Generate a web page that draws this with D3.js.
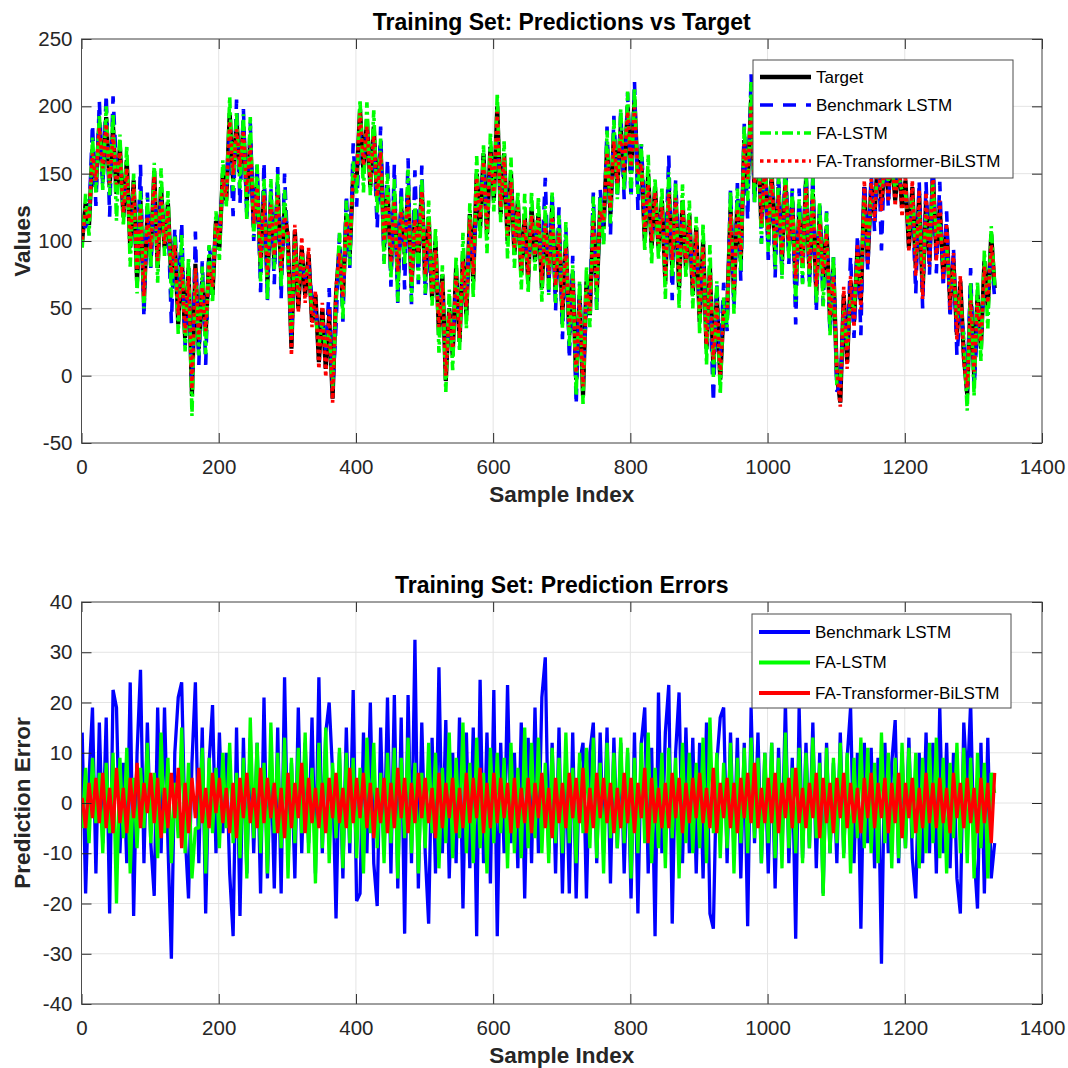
<!DOCTYPE html>
<html>
<head>
<meta charset="utf-8">
<script src="https://cdn.jsdelivr.net/npm/d3@7"></script>
<style>
  body { margin: 0; background: #fff; }
  svg { display: block; }
</style>
</head>
<body>
<svg id="chart" width="1068" height="1068"></svg>
<script>
// Training samples are stored every 5th index, starting at sample 1
const sampleStart = 1;
const sampleStep = 5;

// Target values
const target = [
  100,128,112,168,140,188,148,192,140,185,
  135,170,118,160,95,145,70,130,55,120,
  88,152,80,140,95,128,70,100,38,90,
  28,80,-15,83,20,70,30,88,60,115,
  95,150,130,195,145,190,150,185,130,175,
  110,145,80,138,70,130,85,140,75,125,
  100,20,108,50,95,60,90,40,60,10,
  50,5,45,-17,60,95,55,120,90,150,
  145,198,150,190,140,185,130,170,95,140,
  80,135,70,125,90,140,65,120,85,140,
  70,118,58,100,30,75,-4,50,15,80,
  25,90,45,120,70,150,110,165,105,170,
  130,200,120,165,100,150,90,130,75,120,
  70,125,85,120,65,118,72,125,62,110,
  45,100,30,75,-3,60,-15,70,45,120,
  60,125,110,170,120,180,140,185,145,200,
  150,205,145,160,100,150,95,140,95,130,
  70,140,80,135,65,130,80,120,60,110,
  40,100,20,80,5,60,-3,50,45,125,
  60,130,85,175,140,205,135,180,110,160,
  100,150,90,140,85,145,95,130,65,120,
  80,145,75,135,60,120,70,110,40,80,
  0,-20,60,10,70,40,95,55,140,85,
  140,120,165,125,160,135,165,130,160,125,
  145,95,140,80,135,62,130,85,150,90,
  125,75,110,55,85,30,70,15,-14,60,
  0,60,20,85,50,105,65
];

// Prediction errors (prediction - target)
const errBenchmark = [
  14,-18,5,19,-14,16,-8,17,-22,22.5,
  19,-10,8,-12,24,-22.5,10,26.5,-12,16,
  -8,-18.5,19,-10,19,-8,-31,10,21,24,
  -6,-19,8,24,-12,15,-22,8,19.5,-10,
  14,-6,10,-14,-26.5,15,-22.5,13,-14,13,
  -10,12,-18,21,-15,10,-17,15,-18,25,
  -12,8,-15,19,-10,12,-8,17,-14,25,
  -10,14,20,6,-23,10,-15,15,-10,22.5,
  -19.5,-18,14,-10,20,-12,-20.5,15,-10,21,
  -14,21.5,-17,17,-26,21.5,-12,32.5,-17,16,
  -10,-24,13,-14,27,-10,16.5,-15,10,-12,
  17,-21,14,-13,15,-26.5,24.5,-12,14,-16,
  22.5,-26.5,12,-10,23.5,-8,10,-13,16,-19,
  13,-12,19,-10,21,29,-10,12,-14,15,
  -18,10,-18,14,-19,8,12,-19,10,16,
  -12,14,-10,15,-16,13,-9,12,-14,10,
  -19,14,-22,12,19,-14,11,-26.5,22,-10,
  14,23.5,-24,10,22,-12,15,-10,13,-14,
  12,-15,16,-22,-25,8,17,19,-12,14,
  -10,13,-15,12,-24.5,19,-8,14,-12,10,
  -14,12,-17,11,-10,20,-12,9,-27,19,
  -11,12,-9,16,-13,10,-18,12,-10,8,
  -12,14,-10,9,19,-12,10,-25,12,-8,
  11,-13,9,-32,12,-10,8,16.5,-12,10,
  -9,13,-11,-19,10,-12,14,-10,12,-14,
  19,-10,12,-13,10,-15,-22,16,3,20,
  -10,-21,12,-18,13,-15,-8
];

const errFALSTM = [
  -5,7,-8,9,-4,6,-10,8,-6,10,
  -20,9,-7,11,-14,5,-9,7,-5,12,
  -8,6,-11,14,-6,9,-12,4,-7,15,
  -10,8,-15,-5,-5,11,-14,9,-6,7,
  -9,10,-5,12,-8,6,-11,9,-15,17,
  -7,12,-10,8,-14,16,-6,10,-9,13,
  -15,9,-8,11,-6,14,-10,7,-16,12,
  -9,15,-12,8,-7,11,-13,10,-8,9,
  -11,7,-14,13,-6,12,-9,6,-12,10,
  -8,11,-15,9,-7,13,-10,8,-14,6,
  -9,12,-6,10,-13,7,-8,14,-11,9,
  -7,16,-10,8,-12,13,-9,6,-14,11,
  -8,10,-6,9,-13,12,-10,7,-11,15,
  -9,12,-7,13,-10,8,-12,11,-8,9,
  -10,14,-8,7,-12,10,-6,11,-9,13,
  -11,8,-14,12,-7,10,-9,13,-8,11,
  -15,9,-10,12,-8,14,-12,7,-9,10,
  -13,11,-7,9,-15,12,-8,10,-10,8,
  -9,13,-12,17,-6,10,-11,8,-9,12,
  -14,9,-8,11,-10,13,-7,9,-12,10,
  -8,12,-11,9,-13,14,-9,7,-10,11,
  -12,10,-9,13,-7,8,-18.5,11,-10,9,
  -8,12,-11,10,-14,9,-7,13,-9,11,
  -10,8,-12,14,-8,10,-13,9,-11,12,
  -9,11,-7,10,-13,9,-10,12,-8,13,
  -11,9,-14,8,-7,12,-10,11,-12,9,
  -15,10,-9,8,-15,6,2
];

const errFATransformerBiLSTM = [
  1,-5,4,-3,5,-4,6,-5,3,-6,
  7,-4,3,-6,5,-3,8,-5,4,-2,
  6,-4,5,-7,3,-5,6,-3,7,-9,
  4,-6,5,-3,7,-4,3,-5,6,-2,
  5,-4,3,-6,4,-7,5,-3,6,-4,
  3,-5,7,-4,5,-3,4,-6,3,-7,
  6,-5,4,-3,8,-6,5,-4,3,-5,
  4,-6,5,-3,6,-4,3,-5,7,-4,
  5,-3,6,-5,4,-7,3,-4,5,-6,
  4,-5,7,-3,5,-6,4,-4,6,-3,
  5,-4,3,-7,6,-5,4,-3,5,-6,
  3,-5,6,-4,5,-3,7,-6,4,-5,
  6,-4,5,-3,4,-6,5,-5,3,-4,
  5,-6,4,-3,6,-5,3,-7,5,-4,
  4,-5,6,-3,5,-4,7,-6,3,-5,
  6,-3,5,-4,4,-6,3,-5,6,-4,
  5,-6,4,-3,7,-8,5,-4,3,-5,
  4,-5,6,-3,5,-6,4,-4,5,-3,
  6,-4,3,-5,7,-6,4,-3,5,-5,
  4,-6,5,-3,6,-4,8,-5,3,-4,
  5,-4,6,-6,4,-3,5,-5,7,-4,
  3,-5,4,-3,6,-7,5,-4,4,-6,
  5,-3,6,-5,4,-4,3,-6,5,-3,
  6,-5,4,-3,5,-6,4,-4,6,-7,
  4,-3,5,-6,3,-5,6,-4,4,-5,
  5,-4,3,-6,6,-3,4,-5,5,-4,
  3,-6,5,-4,4,-8,6
];

const seriesNames = ["Target", "Benchmark LSTM", "FA-LSTM", "FA-Transformer-BiLSTM"];
const xTicks = [0, 200, 400, 600, 800, 1000, 1200, 1400];
const yTicksValues = [-50, 0, 50, 100, 150, 200, 250];
const yTicksErrors = [-40, -30, -20, -10, 0, 10, 20, 30, 40];

// Derived series
const samples = target.map((_, i) => sampleStart + i * sampleStep);
const predBenchmark = target.map((t, i) => t + errBenchmark[i]);
const predFALSTM = target.map((t, i) => t + errFALSTM[i]);
const predFATB = target.map((t, i) => t + errFATransformerBiLSTM[i]);

const FONT = "'Liberation Sans', Arial, Helvetica, sans-serif";
const AXIS_COLOR = "#262626";
const GRID_COLOR = "#e4e4e4";
const plainNumber = d => String(d);   // hyphen-minus tick labels

const svg = d3.select("#chart").style("font-family", FONT);

function drawPanel(cfg) {
  const { left, right, top, bottom } = cfg.box;
  const x = d3.scaleLinear().domain([0, 1400]).range([left, right]);
  const y = d3.scaleLinear().domain(cfg.yDomain).range([bottom, top]);
  const g = svg.append("g");

  // grid
  g.append("g").selectAll("line").data(xTicks).join("line")
    .attr("x1", d => x(d)).attr("x2", d => x(d))
    .attr("y1", top).attr("y2", bottom)
    .attr("stroke", GRID_COLOR).attr("stroke-width", 1);
  g.append("g").selectAll("line").data(cfg.yTicks).join("line")
    .attr("x1", left).attr("x2", right)
    .attr("y1", d => y(d)).attr("y2", d => y(d))
    .attr("stroke", GRID_COLOR).attr("stroke-width", 1);

  // clip region for the data lines
  const clipId = "clip-" + cfg.id;
  svg.append("clipPath").attr("id", clipId)
    .append("rect").attr("x", left).attr("y", top)
    .attr("width", right - left).attr("height", bottom - top);

  const plot = g.append("g").attr("clip-path", `url(#${clipId})`);
  cfg.series.forEach(s => {
    const line = d3.line().x((d, i) => x(samples[i])).y(d => y(d));
    plot.append("path")
      .datum(s.values)
      .attr("d", line)
      .attr("fill", "none")
      .attr("stroke", s.color)
      .attr("stroke-width", s.width)
      .attr("stroke-dasharray", s.dash || null)
      .attr("stroke-linejoin", "bevel")
      .attr("stroke-linecap", "butt");
  });

  // axes with inward ticks on all four sides
  const tick = 10;
  const axB = d3.axisBottom(x).tickValues(xTicks).tickSize(-tick).tickPadding(16.5).tickFormat(plainNumber);
  const axT = d3.axisTop(x).tickValues(xTicks).tickSize(-tick).tickFormat("");
  const axL = d3.axisLeft(y).tickValues(cfg.yTicks).tickSize(-tick).tickPadding(9).tickFormat(plainNumber);
  const axR = d3.axisRight(y).tickValues(cfg.yTicks).tickSize(-tick).tickFormat("");

  const styleAxis = sel => {
    sel.select(".domain").remove();
    sel.selectAll(".tick line").attr("stroke", AXIS_COLOR).attr("stroke-width", 1);
    sel.selectAll(".tick text").attr("fill", AXIS_COLOR).style("font-size", "20.5px").style("font-family", FONT);
  };
  g.append("g").attr("transform", `translate(0,${bottom})`).call(axB).call(styleAxis);
  g.append("g").attr("transform", `translate(0,${top})`).call(axT).call(styleAxis);
  g.append("g").attr("transform", `translate(${left},0)`).call(axL).call(styleAxis);
  g.append("g").attr("transform", `translate(${right},0)`).call(axR).call(styleAxis);

  g.append("rect").attr("x", left).attr("y", top)
    .attr("width", right - left).attr("height", bottom - top)
    .attr("fill", "none").attr("stroke", "#4d4d4d").attr("stroke-width", 1);

  // title and axis labels
  g.append("text").attr("x", (left + right) / 2).attr("y", top - 9)
    .attr("text-anchor", "middle").attr("font-weight", "bold")
    .style("font-size", "23px").attr("fill", "#000").text(cfg.title);
  g.append("text").attr("x", (left + right) / 2).attr("y", bottom + 59)
    .attr("text-anchor", "middle").attr("font-weight", "bold")
    .style("font-size", "22.5px").attr("fill", AXIS_COLOR).text("Sample Index");
  g.append("text")
    .attr("transform", `translate(30,${(top + bottom) / 2}) rotate(-90)`)
    .attr("text-anchor", "middle").attr("font-weight", "bold")
    .style("font-size", "22.5px").attr("fill", AXIS_COLOR).text(cfg.yLabel);

  // legend
  const L = cfg.legend;
  const lg = g.append("g");
  lg.append("rect").attr("x", L.x).attr("y", L.y).attr("width", L.w).attr("height", L.h)
    .attr("fill", "#fff").attr("stroke", "#4d4d4d").attr("stroke-width", 1);
  L.items.forEach((s, i) => {
    const cy = L.y + L.first + i * L.gap;
    lg.append("line")
      .attr("x1", L.x + 7).attr("x2", L.x + 58).attr("y1", cy).attr("y2", cy)
      .attr("stroke", s.color).attr("stroke-width", s.legendWidth || s.width)
      .attr("stroke-dasharray", s.dash || null);
    lg.append("text").attr("x", L.x + 63).attr("y", cy).attr("dy", "0.35em")
      .style("font-size", "17px").attr("fill", "#000").text(s.name);
  });
}

// Top panel: predictions vs target
const topSeries = [
  { name: seriesNames[0], values: target, color: "#000000", width: 4.2, legendWidth: 4.5 },
  { name: seriesNames[1], values: predBenchmark, color: "#0000ff", width: 3.6, dash: "13,10" },
  { name: seriesNames[2], values: predFALSTM, color: "#00ff00", width: 3.6, dash: "11,4,3,4" },
  { name: seriesNames[3], values: predFATB, color: "#ff0000", width: 3.6, dash: "3.5,3.5" }
];
drawPanel({
  id: "values",
  box: { left: 81.5, right: 1042, top: 39, bottom: 443 },
  yDomain: [-50, 250],
  yTicks: yTicksValues,
  title: "Training Set: Predictions vs Target",
  yLabel: "Values",
  series: topSeries,
  legend: { x: 753, y: 60, w: 260, h: 118, first: 17, gap: 28, items: topSeries }
});

// Bottom panel: prediction errors
const errSeries = [
  { name: seriesNames[1], values: errBenchmark, color: "#0000ff", width: 3.3, legendWidth: 4 },
  { name: seriesNames[2], values: errFALSTM, color: "#00ff00", width: 3.3, legendWidth: 4 },
  { name: seriesNames[3], values: errFATransformerBiLSTM, color: "#ff0000", width: 3.3, legendWidth: 4 }
];
drawPanel({
  id: "errors",
  box: { left: 81.5, right: 1042, top: 602, bottom: 1004 },
  yDomain: [-40, 40],
  yTicks: yTicksErrors,
  title: "Training Set: Prediction Errors",
  yLabel: "Prediction Error",
  series: errSeries,
  legend: { x: 752, y: 614, w: 259, h: 94, first: 18, gap: 30.5, items: errSeries }
});
</script>
</body>
</html>
